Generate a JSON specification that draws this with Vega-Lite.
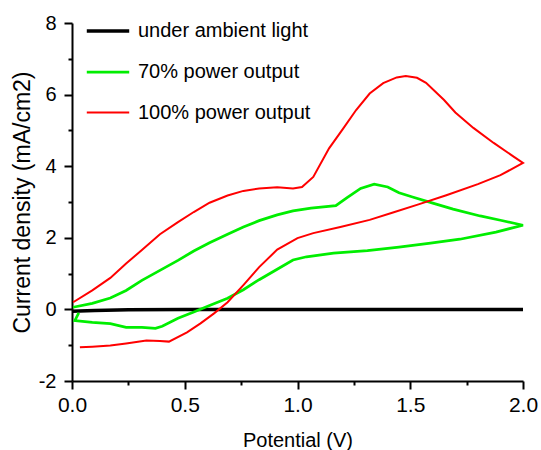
{
  "$schema": "https://vega.github.io/schema/vega-lite/v6.json",
  "autosize": {"type": "none"},
  "padding": {"left": 72, "top": 23, "right": 18, "bottom": 69},
  "width": 451,
  "height": 358,
  "background": "white",
  "config": {
    "view": {"stroke": null},
    "font": "Liberation Sans",
    "axis": {"grid": false, "domainColor": "black", "domainWidth": 2, "tickColor": "black", "tickWidth": 2, "labelColor": "black", "titleColor": "black", "labelFont": "Liberation Sans", "titleFont": "Liberation Sans", "titleFontWeight": "normal"}
  },
  "data": {
    "values": [
      {"s": "under ambient light", "i": 0, "v": 0.0, "j": -0.05},
      {"s": "under ambient light", "i": 1, "v": 0.1, "j": -0.03},
      {"s": "under ambient light", "i": 2, "v": 0.25, "j": -0.01},
      {"s": "under ambient light", "i": 3, "v": 0.5, "j": 0.0},
      {"s": "under ambient light", "i": 4, "v": 2.0, "j": 0.0},

      {"s": "70% power output", "i": 0, "v": 0.005, "j": 0.06},
      {"s": "70% power output", "i": 1, "v": 0.09, "j": 0.17},
      {"s": "70% power output", "i": 2, "v": 0.17, "j": 0.32},
      {"s": "70% power output", "i": 3, "v": 0.24, "j": 0.53},
      {"s": "70% power output", "i": 4, "v": 0.31, "j": 0.81},
      {"s": "70% power output", "i": 5, "v": 0.39, "j": 1.09},
      {"s": "70% power output", "i": 6, "v": 0.47, "j": 1.37},
      {"s": "70% power output", "i": 7, "v": 0.54, "j": 1.63},
      {"s": "70% power output", "i": 8, "v": 0.61, "j": 1.86},
      {"s": "70% power output", "i": 9, "v": 0.69, "j": 2.1},
      {"s": "70% power output", "i": 10, "v": 0.76, "j": 2.3},
      {"s": "70% power output", "i": 11, "v": 0.83, "j": 2.48},
      {"s": "70% power output", "i": 12, "v": 0.91, "j": 2.64},
      {"s": "70% power output", "i": 13, "v": 0.98, "j": 2.75},
      {"s": "70% power output", "i": 14, "v": 1.06, "j": 2.83},
      {"s": "70% power output", "i": 15, "v": 1.17, "j": 2.9},
      {"s": "70% power output", "i": 16, "v": 1.22, "j": 3.12},
      {"s": "70% power output", "i": 17, "v": 1.28, "j": 3.38},
      {"s": "70% power output", "i": 18, "v": 1.34, "j": 3.5},
      {"s": "70% power output", "i": 19, "v": 1.4, "j": 3.42},
      {"s": "70% power output", "i": 20, "v": 1.45, "j": 3.26},
      {"s": "70% power output", "i": 21, "v": 1.51, "j": 3.14},
      {"s": "70% power output", "i": 22, "v": 1.6, "j": 2.97},
      {"s": "70% power output", "i": 23, "v": 1.69, "j": 2.8},
      {"s": "70% power output", "i": 24, "v": 1.81, "j": 2.61},
      {"s": "70% power output", "i": 25, "v": 1.9, "j": 2.49},
      {"s": "70% power output", "i": 26, "v": 2.0, "j": 2.35},
      {"s": "70% power output", "i": 27, "v": 1.88, "j": 2.16},
      {"s": "70% power output", "i": 28, "v": 1.72, "j": 1.96},
      {"s": "70% power output", "i": 29, "v": 1.59, "j": 1.85},
      {"s": "70% power output", "i": 30, "v": 1.45, "j": 1.74},
      {"s": "70% power output", "i": 31, "v": 1.31, "j": 1.64},
      {"s": "70% power output", "i": 32, "v": 1.16, "j": 1.57},
      {"s": "70% power output", "i": 33, "v": 1.04, "j": 1.47},
      {"s": "70% power output", "i": 34, "v": 0.98, "j": 1.38},
      {"s": "70% power output", "i": 35, "v": 0.91, "j": 1.12},
      {"s": "70% power output", "i": 36, "v": 0.83, "j": 0.83},
      {"s": "70% power output", "i": 37, "v": 0.76, "j": 0.55},
      {"s": "70% power output", "i": 38, "v": 0.69, "j": 0.31},
      {"s": "70% power output", "i": 39, "v": 0.61, "j": 0.11},
      {"s": "70% power output", "i": 40, "v": 0.54, "j": -0.07},
      {"s": "70% power output", "i": 41, "v": 0.47, "j": -0.25},
      {"s": "70% power output", "i": 42, "v": 0.4, "j": -0.47},
      {"s": "70% power output", "i": 43, "v": 0.37, "j": -0.53},
      {"s": "70% power output", "i": 44, "v": 0.31, "j": -0.5},
      {"s": "70% power output", "i": 45, "v": 0.24, "j": -0.5},
      {"s": "70% power output", "i": 46, "v": 0.17, "j": -0.4},
      {"s": "70% power output", "i": 47, "v": 0.09, "j": -0.36},
      {"s": "70% power output", "i": 48, "v": 0.013, "j": -0.31},
      {"s": "70% power output", "i": 49, "v": 0.03, "j": -0.1},

      {"s": "100% power output", "i": 0, "v": 0.005, "j": 0.2},
      {"s": "100% power output", "i": 1, "v": 0.09, "j": 0.53},
      {"s": "100% power output", "i": 2, "v": 0.17, "j": 0.88},
      {"s": "100% power output", "i": 3, "v": 0.24, "j": 1.28},
      {"s": "100% power output", "i": 4, "v": 0.31, "j": 1.66},
      {"s": "100% power output", "i": 5, "v": 0.39, "j": 2.1},
      {"s": "100% power output", "i": 6, "v": 0.47, "j": 2.44},
      {"s": "100% power output", "i": 7, "v": 0.54, "j": 2.72},
      {"s": "100% power output", "i": 8, "v": 0.61, "j": 2.98},
      {"s": "100% power output", "i": 9, "v": 0.69, "j": 3.18},
      {"s": "100% power output", "i": 10, "v": 0.76, "j": 3.31},
      {"s": "100% power output", "i": 11, "v": 0.83, "j": 3.38},
      {"s": "100% power output", "i": 12, "v": 0.91, "j": 3.41},
      {"s": "100% power output", "i": 13, "v": 0.98, "j": 3.38},
      {"s": "100% power output", "i": 14, "v": 1.02, "j": 3.42},
      {"s": "100% power output", "i": 15, "v": 1.07, "j": 3.7},
      {"s": "100% power output", "i": 16, "v": 1.14, "j": 4.5},
      {"s": "100% power output", "i": 17, "v": 1.2, "j": 5.03},
      {"s": "100% power output", "i": 18, "v": 1.26, "j": 5.57},
      {"s": "100% power output", "i": 19, "v": 1.32, "j": 6.03},
      {"s": "100% power output", "i": 20, "v": 1.38, "j": 6.32},
      {"s": "100% power output", "i": 21, "v": 1.44, "j": 6.48},
      {"s": "100% power output", "i": 22, "v": 1.48, "j": 6.52},
      {"s": "100% power output", "i": 23, "v": 1.53, "j": 6.47},
      {"s": "100% power output", "i": 24, "v": 1.57, "j": 6.33},
      {"s": "100% power output", "i": 25, "v": 1.65, "j": 5.85},
      {"s": "100% power output", "i": 26, "v": 1.7, "j": 5.5},
      {"s": "100% power output", "i": 27, "v": 1.78, "j": 5.07},
      {"s": "100% power output", "i": 28, "v": 1.87, "j": 4.65},
      {"s": "100% power output", "i": 29, "v": 1.96, "j": 4.26},
      {"s": "100% power output", "i": 30, "v": 2.0, "j": 4.09},
      {"s": "100% power output", "i": 31, "v": 1.9, "j": 3.75},
      {"s": "100% power output", "i": 32, "v": 1.8, "j": 3.5},
      {"s": "100% power output", "i": 33, "v": 1.66, "j": 3.19},
      {"s": "100% power output", "i": 34, "v": 1.54, "j": 2.94},
      {"s": "100% power output", "i": 35, "v": 1.42, "j": 2.7},
      {"s": "100% power output", "i": 36, "v": 1.32, "j": 2.5},
      {"s": "100% power output", "i": 37, "v": 1.19, "j": 2.3},
      {"s": "100% power output", "i": 38, "v": 1.07, "j": 2.13},
      {"s": "100% power output", "i": 39, "v": 1.0, "j": 1.99},
      {"s": "100% power output", "i": 40, "v": 0.91, "j": 1.67},
      {"s": "100% power output", "i": 41, "v": 0.83, "j": 1.18},
      {"s": "100% power output", "i": 42, "v": 0.76, "j": 0.68},
      {"s": "100% power output", "i": 43, "v": 0.69, "j": 0.2},
      {"s": "100% power output", "i": 44, "v": 0.63, "j": -0.11},
      {"s": "100% power output", "i": 45, "v": 0.57, "j": -0.39},
      {"s": "100% power output", "i": 46, "v": 0.51, "j": -0.64},
      {"s": "100% power output", "i": 47, "v": 0.43, "j": -0.9},
      {"s": "100% power output", "i": 48, "v": 0.39, "j": -0.88},
      {"s": "100% power output", "i": 49, "v": 0.33, "j": -0.87},
      {"s": "100% power output", "i": 50, "v": 0.24, "j": -0.95},
      {"s": "100% power output", "i": 51, "v": 0.17, "j": -1.01},
      {"s": "100% power output", "i": 52, "v": 0.09, "j": -1.04},
      {"s": "100% power output", "i": 53, "v": 0.035, "j": -1.06}
    ]
  },
  "mark": {"type": "line", "interpolate": "linear"},
  "encoding": {
    "x": {
      "field": "v", "type": "quantitative",
      "scale": {"domain": [0, 2], "nice": false, "zero": false},
      "axis": {
        "title": "Potential (V)",
        "titleFontSize": 20,
        "titleY": 59,
        "titleBaseline": "middle",
        "values": [0, 0.25, 0.5, 0.75, 1, 1.25, 1.5, 1.75, 2],
        "labelExpr": "(datum.value * 2) % 1 == 0 ? format(datum.value, '.1f') : ''",
        "labelFontSize": 21,
        "labelPadding": 5,
        "tickSize": {"condition": {"test": "(datum.value * 2) % 1 == 0", "value": 8}, "value": 4},
        "labelFlush": false,
        "labelOverlap": false
      }
    },
    "y": {
      "field": "j", "type": "quantitative",
      "scale": {"domain": [-2, 8], "nice": false, "zero": false},
      "axis": {
        "title": "Current density (mA/cm2)",
        "titleFontSize": 23,
        "titleX": -50,
        "titleY": 179,
        "titleBaseline": "middle",
        "values": [-2, -1, 0, 1, 2, 3, 4, 5, 6, 7, 8],
        "labelExpr": "datum.value % 2 == 0 ? '' + datum.value : ''",
        "labelFontSize": 20,
        "labelPadding": 8,
        "tickSize": {"condition": {"test": "datum.value % 2 == 0", "value": 8}, "value": 4},
        "labelFlush": false,
        "labelOverlap": false
      }
    },
    "color": {
      "field": "s", "type": "nominal",
      "scale": {"domain": ["under ambient light", "70% power output", "100% power output"], "range": ["#000000", "#00ee00", "#ff0000"]},
      "legend": {
        "title": null,
        "orient": "none",
        "legendX": 13,
        "legendY": -15,
        "padding": 0,
        "symbolType": "stroke",
        "symbolSize": 1800,
        "symbolStrokeWidth": 2,
        "labelFontSize": 20,
        "labelFont": "Liberation Sans",
        "labelColor": "black",
        "labelOffset": 7,
        "labelLimit": 400,
        "rowPadding": 8
      }
    },
    "strokeWidth": {
      "field": "s", "type": "nominal",
      "scale": {"domain": ["under ambient light", "70% power output", "100% power output"], "range": [3.5, 2, 2]},
      "legend": null
    },
    "order": {"field": "i", "type": "quantitative"}
  }
}
